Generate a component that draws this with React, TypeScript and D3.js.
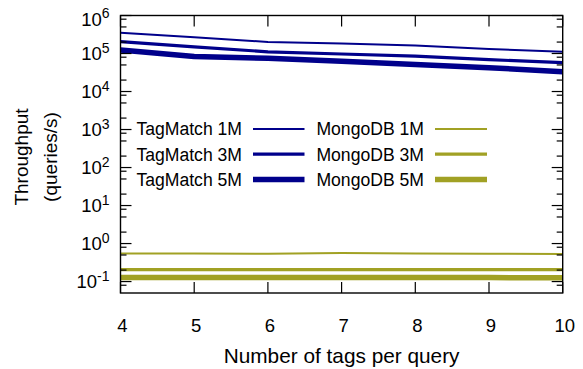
import React from "react";
import * as d3 from "d3";

const tags = [4, 5, 6, 7, 8, 9, 10];
const tagMatch1M = [3.53e5, 2.67e5, 2.02e5, 1.83e5, 1.62e5, 1.31e5, 1.12e5];
const tagMatch3M = [2.05e5, 1.5e5, 1.11e5, 9.7e4, 8.5e4, 6.9e4, 5.75e4];
const tagMatch5M = [1.24e5, 8.3e4, 7.5e4, 6.25e4, 5.15e4, 4.25e4, 3.33e4];
const mongo1M = [0.55, 0.55, 0.54, 0.56, 0.55, 0.54, 0.53];
const mongo3M = [0.207, 0.207, 0.206, 0.207, 0.206, 0.205, 0.205];
const mongo5M = [0.128, 0.128, 0.127, 0.128, 0.127, 0.127, 0.126];
const seriesNames = ["TagMatch 1M", "TagMatch 3M", "TagMatch 5M", "MongoDB 1M", "MongoDB 3M", "MongoDB 5M"];
const yMajorExps = [-1, 0, 1, 2, 3, 4, 5, 6];
const yMinorMult = [2, 5, 8];
const xTicks = [4, 5, 6, 7, 8, 9, 10];

const NAVY = "#00008b";
const OLIVE = "#a1a124";
const FONT = "'Liberation Sans', Arial, Helvetica, sans-serif";

export default function App() {
  const W = 583, H = 369;
  const L = 120.5, R = 562.7, T = 15.5, B = 293;
  const x = d3.scaleLinear().domain([4, 10]).range([L, R]);
  const y = d3.scaleLog().domain([0.05, 1e6]).range([B, T]);

  const series = [
    { name: seriesNames[0], values: tagMatch1M, color: NAVY, w: 2 },
    { name: seriesNames[1], values: tagMatch3M, color: NAVY, w: 3.2 },
    { name: seriesNames[2], values: tagMatch5M, color: NAVY, w: 5.5 },
    { name: seriesNames[3], values: mongo1M, color: OLIVE, w: 2 },
    { name: seriesNames[4], values: mongo3M, color: OLIVE, w: 3.2 },
    { name: seriesNames[5], values: mongo5M, color: OLIVE, w: 5.5 },
  ];

  const line = d3
    .line<number>()
    .x((_, i) => x(tags[i]))
    .y((d) => y(d));

  const minor: number[] = [];
  for (let e = -2; e <= 6; e++) {
    for (const m of yMinorMult) {
      const v = m * Math.pow(10, e);
      if (v > 0.05 && v < 1e6) minor.push(v);
    }
  }

  const major = 11;
  const minorLen = 6;

  return (
    <svg
      width={W}
      height={H}
      style={{ position: "fixed", left: 0, top: 0, background: "#fff" }}
      fontFamily={FONT}
    >
      <rect x={0} y={0} width={W} height={H} fill="#fff" />
      <g fill="none" strokeLinejoin="round">
        {series.map((s) => (
          <path key={s.name} d={line(s.values) || ""} stroke={s.color} strokeWidth={s.w} />
        ))}
      </g>
      <g stroke="#000" strokeWidth={1.2}>
        {yMajorExps.map((e) => {
          const yy = y(Math.pow(10, e));
          return (
            <g key={"ym" + e}>
              <line x1={L} x2={L + major} y1={yy} y2={yy} />
              <line x1={R} x2={R - major} y1={yy} y2={yy} />
            </g>
          );
        })}
        {minor.map((v, i) => {
          const yy = y(v);
          return (
            <g key={"yn" + i}>
              <line x1={L} x2={L + minorLen} y1={yy} y2={yy} />
              <line x1={R} x2={R - minorLen} y1={yy} y2={yy} />
            </g>
          );
        })}
        {xTicks.map((t) => (
          <g key={"xt" + t}>
            <line x1={x(t)} x2={x(t)} y1={B} y2={B - major} />
            <line x1={x(t)} x2={x(t)} y1={T} y2={T + major} />
          </g>
        ))}
      </g>
      <rect x={L} y={T} width={R - L} height={B - T} fill="none" stroke="#000" strokeWidth={1.4} />
      <g fontSize={18.5} fill="#000">
        {yMajorExps.map((e) => (
          <text
            key={"yl" + e}
            x={109.5}
            y={y(Math.pow(10, e)) + 6.8 + (e === 6 ? 3.7 : 0)}
            textAnchor="end"
          >
            10
            <tspan fontSize={14} dy={-7.7}>
              {String(e)}
            </tspan>
          </text>
        ))}
      </g>
      <g fontSize={18.5} fill="#000">
        {xTicks.map((t) => (
          <text key={"xl" + t} x={x(t) + 2} y={331.7} textAnchor="middle">
            {t}
          </text>
        ))}
      </g>
      <text x={(L + R) / 2} y={362.5} textAnchor="middle" fontSize={20.8}>
        Number of tags per query
      </text>
      <g transform="translate(28,157) rotate(-90)">
        <text x={0} y={0} textAnchor="middle" fontSize={19}>
          Throughput
        </text>
      </g>
      <g transform="translate(57,157) rotate(-90)">
        <text x={0} y={0} textAnchor="middle" fontSize={19}>
          (queries/s)
        </text>
      </g>
      <g fontSize={17.6}>
        {series.map((s, i) => {
          const col = i < 3 ? 0 : 1;
          const row = i % 3;
          const yy = 129 + row * 25.2;
          const textX = col === 0 ? 242 : 424;
          const lx1 = col === 0 ? 253 : 435;
          const lx2 = col === 0 ? 304.5 : 487;
          return (
            <g key={"lg" + s.name}>
              <text x={textX} y={yy + 6.3} textAnchor="end">
                {s.name}
              </text>
              <line x1={lx1} x2={lx2} y1={yy} y2={yy} stroke={s.color} strokeWidth={s.w} />
            </g>
          );
        })}
      </g>
    </svg>
  );
}
